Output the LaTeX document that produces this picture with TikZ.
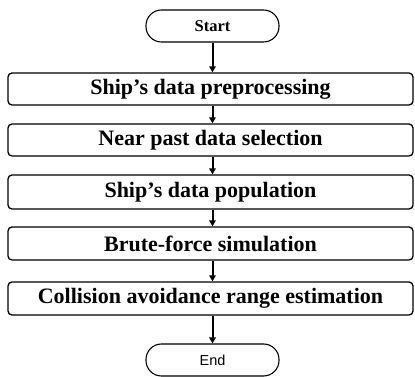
\documentclass[tikz,border=0pt]{standalone}
\usepackage{fontspec}
\setmainfont{Liberation Serif}
\newfontfamily\labelsans{Liberation Sans}
\usetikzlibrary{arrows.meta}
\tikzset{
  stepbox/.style={draw, line width=1.3pt, rounded corners=4pt, minimum width=405pt,
    inner sep=0pt, font=\fontsize{22}{25}\selectfont\bfseries},
  terminal/.style={draw, line width=1.1pt, rounded corners=15.5pt, minimum width=133pt,
    minimum height=32pt, inner sep=0pt},
  flow/.style={line width=2pt, -{Triangle[length=6pt,width=6.5pt]}}
}
\begin{document}
\begin{tikzpicture}[x=1pt,y=1pt]
  \useasboundingbox (0,0) rectangle (415,377);
  \node[terminal, font=\fontsize{16.5}{18}\selectfont\bfseries] (start) at (212.5,351) {Start};
  \node[stepbox, minimum height=32pt] (b1) at (210.5,288) {Ship’s data preprocessing};
  \node[stepbox, minimum height=32pt] (b2) at (210.5,237) {Near past data selection};
  \node[stepbox, minimum height=34pt] (b3) at (210.5,185) {Ship’s data population};
  \node[stepbox, minimum height=33pt] (b4) at (210.5,133.5) {Brute-force simulation};
  \node[stepbox, minimum height=33pt] (b5) at (210.5,78.5) {Collision avoidance range estimation};
  \node[terminal, font=\labelsans\fontsize{14.5}{16}\selectfont] (end) at (212.5,17) {End};
  \draw[flow] (start.south) -- (start.south |- b1.north);
  \draw[flow] (start.south |- b1.south) -- (start.south |- b2.north);
  \draw[flow] (start.south |- b2.south) -- (start.south |- b3.north);
  \draw[flow] (start.south |- b3.south) -- (start.south |- b4.north);
  \draw[flow] (start.south |- b4.south) -- (start.south |- b5.north);
  \draw[flow] (start.south |- b5.south) -- (end.north);
\end{tikzpicture}
\end{document}
